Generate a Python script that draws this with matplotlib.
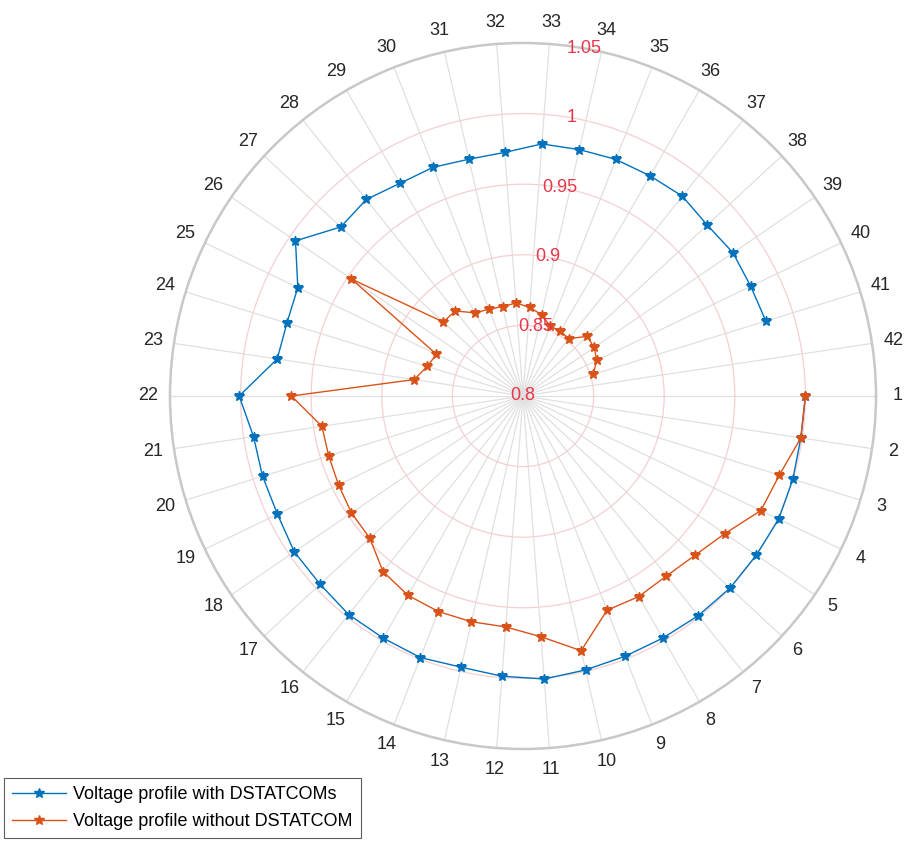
import numpy as np
import matplotlib.pyplot as plt

# node numbers shown around the circle
node_labels = [str(n) for n in range(1, 43)]

# buses plotted (1..41)
buses = list(range(1, 42))

# voltage profile with DSTATCOMs (p.u.)
v_with = [1.000, 0.999, 1.000, 1.001, 1.000, 1.000, 0.999, 0.998, 0.998, 0.999,
          1.001, 0.999, 0.997, 0.999, 0.998, 0.998, 0.996, 0.996, 0.993, 0.993,
          0.993, 1.001, 0.976, 0.975, 0.977, 0.995, 0.976, 0.978, 0.974, 0.974,
          0.972, 0.973, 0.979, 0.979, 0.980, 0.980, 0.981, 0.978, 0.980, 0.979,
          0.980]

# voltage profile without DSTATCOM (p.u.)
v_without = [1.000, 0.999, 0.990, 0.987, 0.973, 0.966, 0.963, 0.964, 0.963, 0.985,
             0.971, 0.964, 0.964, 0.964, 0.963, 0.959, 0.948, 0.947, 0.945, 0.944,
             0.944, 0.964, 0.878, 0.871, 0.868, 0.947, 0.877, 0.877, 0.868, 0.866,
             0.865, 0.866, 0.863, 0.859, 0.853, 0.853, 0.852, 0.862, 0.861, 0.858,
             0.852]

r_ticks = [0.8, 0.85, 0.9, 0.95, 1.0, 1.05]
r_tick_labels = ['0.8', '0.85', '0.9', '0.95', '1', '1.05']

plt.rcParams['font.family'] = ['Liberation Sans', 'DejaVu Sans']

step = 360 / len(node_labels)
theta = np.deg2rad((np.array(buses) - 1) * step)

fig = plt.figure(figsize=(9.09, 8.41), dpi=100)
ax = fig.add_axes([0.187, 0.1094, 0.7767, 0.8395], projection='polar')
ax.set_theta_zero_location('E')
ax.set_theta_direction(-1)

blue = '#0072BD'
orange = '#D95319'
ax.plot(theta, v_with, color=blue, lw=1.0, marker='*', ms=7,
        label='Voltage profile with DSTATCOMs', zorder=3)
ax.plot(theta, v_without, color=orange, lw=1.0, marker='*', ms=7,
        label='Voltage profile without DSTATCOM', zorder=3)

ax.set_rlim(0.8, 1.05)
ax.set_rticks(r_ticks)
ax.set_yticklabels([])
# radial labels sit on the 80 degree spoke, centred on each ring
for rv, lab in zip(r_ticks, r_tick_labels):
    ax.text(np.deg2rad(280), rv, lab, color='#e8364a', fontsize=13,
            ha='center', va='center', zorder=4)

ax.set_thetagrids(np.arange(len(node_labels)) * step, labels=node_labels,
                  fontsize=13, color='#262626')
ax.tick_params(axis='x', pad=5)

ax.xaxis.grid(True, color='#e0e0e0', lw=0.9)
ax.yaxis.grid(True, color='#f5cfd2', lw=0.9)
ax.spines['polar'].set_color('#c8c8c8')
ax.spines['polar'].set_linewidth(1.8)

leg = fig.legend(loc='lower left', bbox_to_anchor=(0.004, 0.003), fontsize=13,
                 frameon=True, fancybox=False, borderpad=0.45, labelspacing=0.55,
                 handlelength=3.0, handletextpad=0.4, borderaxespad=0)
leg.get_frame().set_edgecolor('#333333')
leg.get_frame().set_linewidth(0.8)

fig.savefig('out.png', dpi=100)
